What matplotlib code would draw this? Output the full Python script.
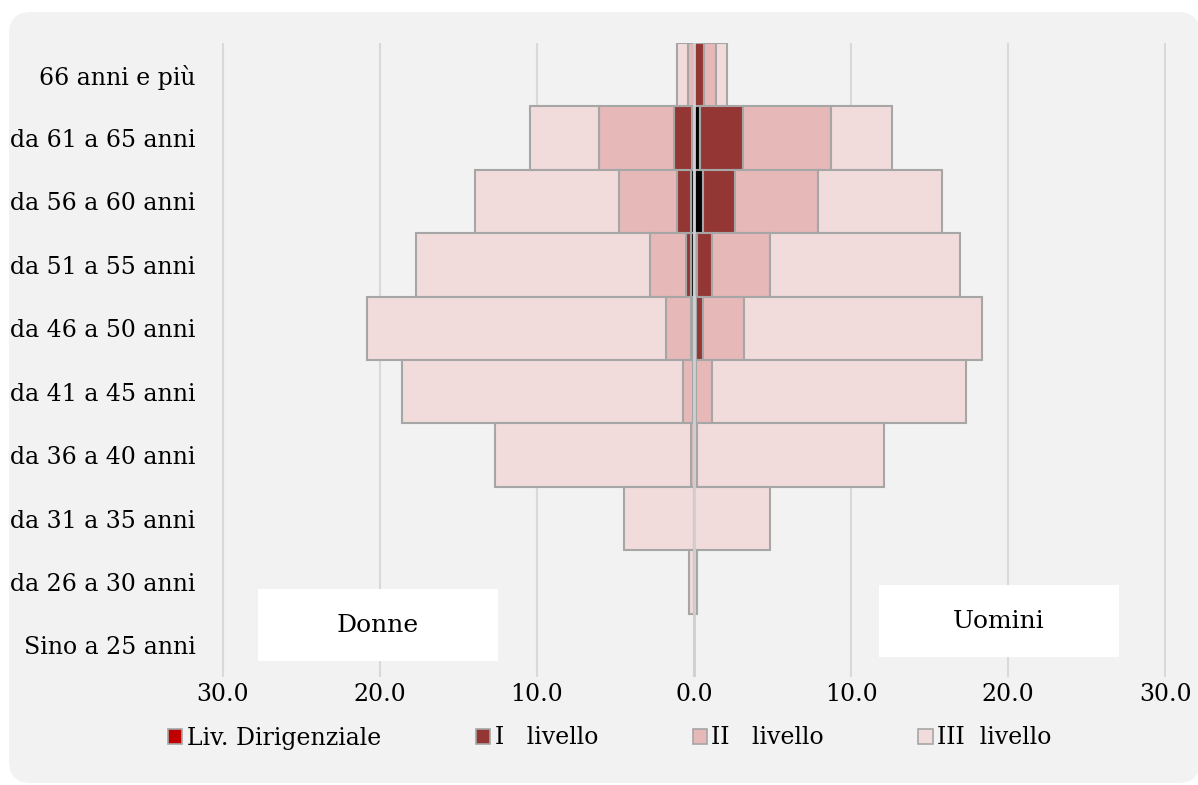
import numpy as np
import matplotlib

matplotlib.use("Agg")
import matplotlib.pyplot as plt
from matplotlib.patches import FancyBboxPatch, Patch, Rectangle
from matplotlib.ticker import FuncFormatter

plt.rcParams["font.family"] = ["DejaVu Serif"]

categories = [
    "66 anni e più",
    "da 61 a 65 anni",
    "da 56 a 60 anni",
    "da 51 a 55 anni",
    "da 46 a 50 anni",
    "da 41 a 45 anni",
    "da 36 a 40 anni",
    "da 31 a 35 anni",
    "da 26 a 30 anni",
    "Sino a 25 anni",
]

# women, share per level (stacked outwards from zero)
donne_dirig = [0.00, 0.15, 0.20, 0.18, 0.10, 0.00, 0.00, 0.00, 0.00, 0.00]
donne_liv1 = [0.00, 1.13, 0.91, 0.32, 0.08, 0.05, 0.00, 0.00, 0.00, 0.00]
donne_liv2 = [0.41, 4.79, 3.69, 2.33, 1.63, 0.64, 0.18, 0.00, 0.00, 0.00]
donne_liv3 = [0.70, 4.39, 9.15, 14.87, 19.04, 17.91, 12.50, 4.46, 0.33, 0.00]

# men
uomini_dirig = [0.00, 0.37, 0.56, 0.20, 0.15, 0.00, 0.00, 0.00, 0.00, 0.00]
uomini_liv1 = [0.62, 2.78, 2.08, 0.93, 0.43, 0.15, 0.00, 0.00, 0.00, 0.00]
uomini_liv2 = [0.75, 5.58, 5.27, 3.73, 2.63, 1.01, 0.20, 0.00, 0.00, 0.00]
uomini_liv3 = [0.70, 3.89, 7.90, 12.07, 15.13, 16.16, 11.91, 4.86, 0.20, 0.00]

labels = ["Liv. Dirigenziale", "I   livello", "II   livello", "III  livello"]
bar_colors = ["#000000", "#943634", "#E6B9B8", "#F2DCDB"]
legend_colors = ["#C00000", "#943634", "#E6B9B8", "#F2DCDB"]
edge = "#A6A6A6"

W, H = 1198, 785
fig = plt.figure(figsize=(W / 100, H / 100), dpi=100)
fig.patch.set_facecolor("white")

# rounded grey background
bg = FancyBboxPatch(
    (9 / 100, (H - 783) / 100),
    (1200 - 9) / 100,
    (783 - 12) / 100,
    boxstyle="round,pad=0,rounding_size=0.22",
    transform=fig.dpi_scale_trans,
    facecolor="#F2F2F2",
    edgecolor="none",
    zorder=-5,
)
fig.patches.append(bg)

ax = fig.add_axes([222 / W, (H - 677) / H, (1166 - 222) / W, 634 / H])
ax.set_zorder(1)
ax.set_facecolor("none")

y = np.arange(len(categories))


def draw_side(ax, series, sign):
    cum = np.zeros(len(categories))
    for vals, color in zip(series, bar_colors):
        vals = np.asarray(vals)
        lw = np.where(vals > 0, 1.5, 0)
        ax.barh(
            y,
            sign * vals,
            left=sign * cum,
            height=1.0,
            color=color,
            edgecolor=edge,
            linewidth=lw,
            zorder=3,
        )
        cum = cum + vals


draw_side(ax, [donne_dirig, donne_liv1, donne_liv2, donne_liv3], -1)
draw_side(ax, [uomini_dirig, uomini_liv1, uomini_liv2, uomini_liv3], 1)

ax.axvline(0, color="#D0D0D0", linewidth=2, zorder=5)

ax.set_xlim(-30.05, 30.05)
ax.set_ylim(len(categories) - 0.5, -0.5)
ax.set_xticks(np.arange(-30, 31, 10))
ax.xaxis.set_major_formatter(FuncFormatter(lambda v, p: f"{abs(v):.1f}"))
ax.set_yticks(y)
ax.set_yticklabels(categories)
ax.grid(axis="x", color="#D9D9D9", linewidth=1.5, zorder=0)
ax.set_axisbelow(True)
for s in ax.spines.values():
    s.set_visible(False)
ax.tick_params(axis="both", length=0, labelsize=17, colors="black")
ax.tick_params(axis="x", pad=4)
ax.tick_params(axis="y", pad=19)


def label_box(x0, y0, x1, y1, text):
    fig.patches.append(
        Rectangle(
            (x0 / W, 1 - y1 / H),
            (x1 - x0) / W,
            (y1 - y0) / H,
            transform=fig.transFigure,
            facecolor="white",
            edgecolor="none",
            zorder=6,
        )
    )
    fig.text(
        (x0 + x1) / 2 / W,
        1 - (y0 + y1) / 2 / H,
        text,
        ha="center",
        va="center",
        fontsize=18,
        zorder=7,
    )


label_box(258, 589, 498, 661, "Donne")
label_box(879, 585, 1119, 657, "Uomini")

handles = [
    Patch(facecolor=c, edgecolor=edge, linewidth=1.2) for c in legend_colors
]
fig.legend(
    handles=handles,
    labels=labels,
    loc="center",
    bbox_to_anchor=(610 / W, 1 - 738 / H),
    ncol=4,
    frameon=False,
    fontsize=17,
    handlelength=0.6,
    handleheight=0.6,
    handletextpad=0.2,
    columnspacing=4.0,
)

fig.savefig("out.png", dpi=100)
